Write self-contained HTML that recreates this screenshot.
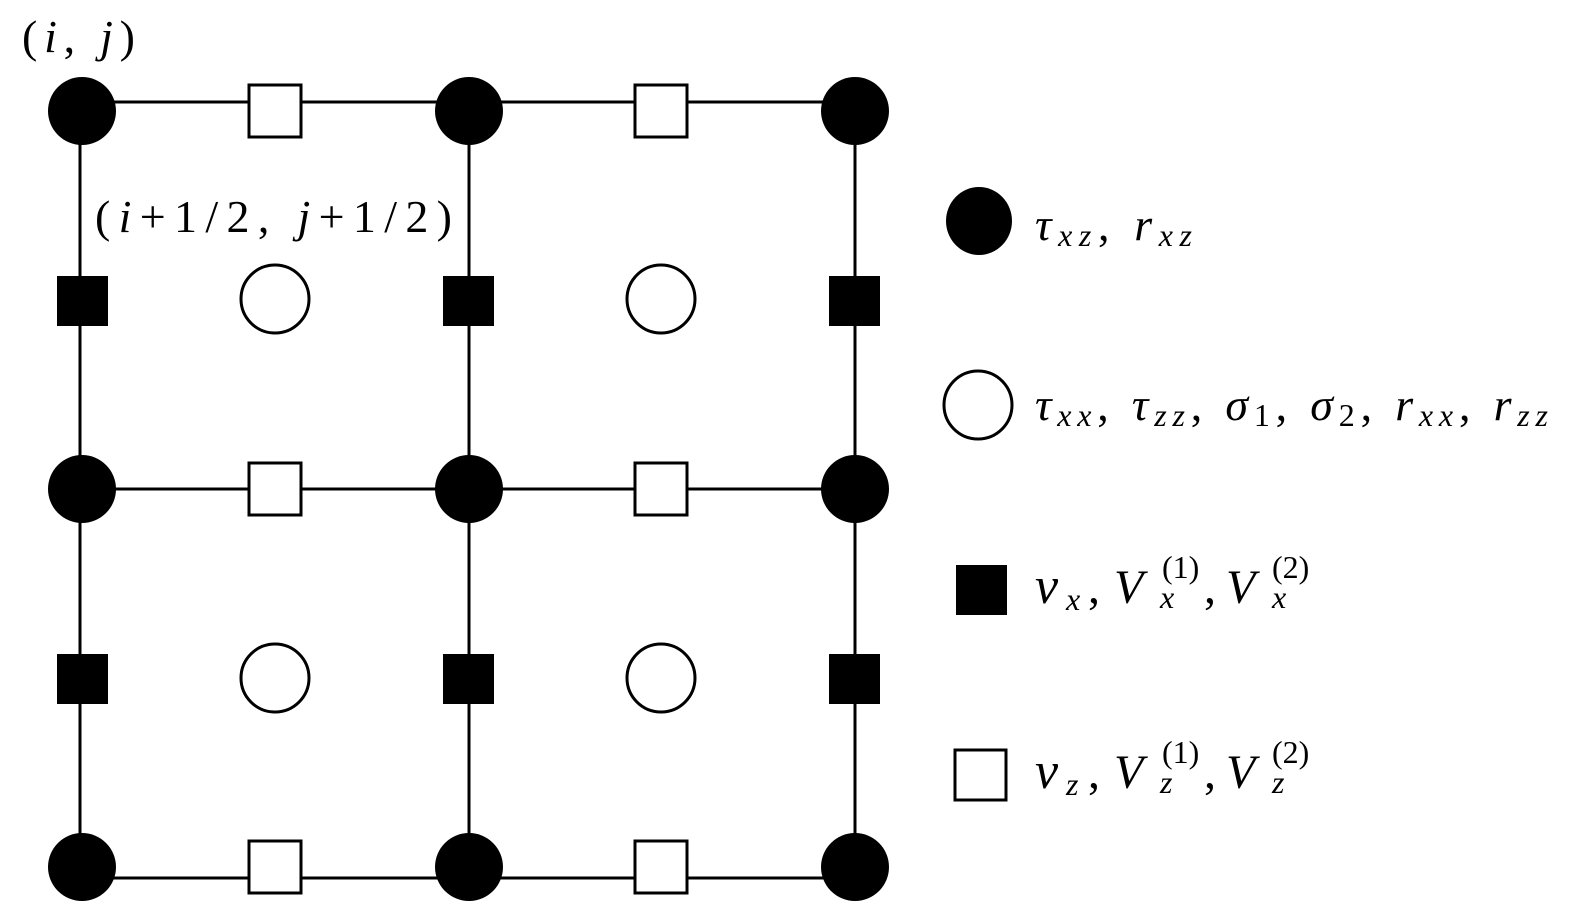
<!DOCTYPE html>
<html><head><meta charset="utf-8"><style>
body{margin:0;background:#fff}
svg text{font-family:"Liberation Serif",serif;fill:#000}
.i{font-style:italic}
</style></head><body>
<svg width="1575" height="915" xmlns="http://www.w3.org/2000/svg">
<g stroke="#000" stroke-width="3" fill="none">
<line x1="80" y1="102" x2="855" y2="102"/>
<line x1="80" y1="489" x2="855" y2="489"/>
<line x1="80" y1="878" x2="855" y2="878"/>
<line x1="80" y1="102" x2="80" y2="878"/>
<line x1="469" y1="102" x2="469" y2="878"/>
<line x1="855" y1="102" x2="855" y2="878"/>
</g>
<g fill="#000">
<circle cx="82" cy="111" r="34"/><circle cx="469" cy="111" r="34"/><circle cx="855" cy="111" r="34"/>
<circle cx="82" cy="489" r="34"/><circle cx="469" cy="489" r="34"/><circle cx="855" cy="489" r="34"/>
<circle cx="82" cy="867" r="34"/><circle cx="469" cy="867" r="34"/><circle cx="855" cy="867" r="34"/>
<rect x="57" y="276" width="51" height="50"/><rect x="443" y="276" width="51" height="50"/><rect x="829" y="276" width="51" height="50"/>
<rect x="57" y="654" width="51" height="50"/><rect x="443" y="654" width="51" height="50"/><rect x="829" y="654" width="51" height="50"/>
<ellipse cx="979" cy="221" rx="33" ry="34"/>
<rect x="956" y="565" width="51" height="50"/>
</g>
<g fill="#fff" stroke="#000" stroke-width="3">
<rect x="249" y="85" width="52" height="52"/><rect x="635" y="85" width="52" height="52"/>
<rect x="249" y="463" width="52" height="52"/><rect x="635" y="463" width="52" height="52"/>
<rect x="249" y="841" width="52" height="52"/><rect x="635" y="841" width="52" height="52"/>
<circle cx="275" cy="299" r="34"/><circle cx="661" cy="299" r="34"/>
<circle cx="275" cy="678" r="34"/><circle cx="661" cy="678" r="34"/>
<circle cx="978" cy="405" r="34"/>
<rect x="955" y="750" width="51" height="50"/>
</g>
<text x="22" y="52" font-size="46" textLength="113" lengthAdjust="spacing">(<tspan class="i">i</tspan>, <tspan class="i">j</tspan>)</text>
<text x="95" y="232" font-size="46" textLength="357" lengthAdjust="spacing">(<tspan class="i">i</tspan>+1/2, <tspan class="i">j</tspan>+1/2)</text>
<text x="1035" y="240" font-size="46" textLength="157" lengthAdjust="spacing"><tspan class="i">τ</tspan><tspan class="i" font-size="32" dy="6">xz</tspan><tspan dy="-6">, </tspan><tspan class="i">r</tspan><tspan class="i" font-size="32" dy="6">xz</tspan></text>
<text x="1035" y="420" font-size="46" textLength="513" lengthAdjust="spacing"><tspan class="i">τ</tspan><tspan class="i" font-size="32" dy="6">xx</tspan><tspan dy="-6">, </tspan><tspan class="i">τ</tspan><tspan class="i" font-size="32" dy="6">zz</tspan><tspan dy="-6">, </tspan><tspan class="i">σ</tspan><tspan font-size="32" dy="6">1</tspan><tspan dy="-6">, </tspan><tspan class="i">σ</tspan><tspan font-size="32" dy="6">2</tspan><tspan dy="-6">, </tspan><tspan class="i">r</tspan><tspan class="i" font-size="32" dy="6">xx</tspan><tspan dy="-6">, </tspan><tspan class="i">r</tspan><tspan class="i" font-size="32" dy="6">zz</tspan></text>

<text x="1035" y="603" font-size="52" class="i">v</text>
<text x="1066" y="610" font-size="32" class="i">x</text>
<text x="1088" y="603" font-size="48">,</text>
<text x="1114" y="603" font-size="48" class="i">V</text>
<text x="1162" y="578" font-size="32">(1)</text>
<text x="1160" y="608" font-size="32" class="i">x</text>
<text x="1204" y="603" font-size="48">,</text>
<text x="1226" y="603" font-size="48" class="i">V</text>
<text x="1272" y="578" font-size="32">(2)</text>
<text x="1272" y="608" font-size="32" class="i">x</text>

<text x="1035" y="788" font-size="52" class="i">v</text>
<text x="1066" y="795" font-size="32" class="i">z</text>
<text x="1088" y="788" font-size="48">,</text>
<text x="1114" y="788" font-size="48" class="i">V</text>
<text x="1162" y="763" font-size="32">(1)</text>
<text x="1160" y="793" font-size="32" class="i">z</text>
<text x="1204" y="788" font-size="48">,</text>
<text x="1226" y="788" font-size="48" class="i">V</text>
<text x="1272" y="763" font-size="32">(2)</text>
<text x="1272" y="793" font-size="32" class="i">z</text>
</svg>
</body></html>
